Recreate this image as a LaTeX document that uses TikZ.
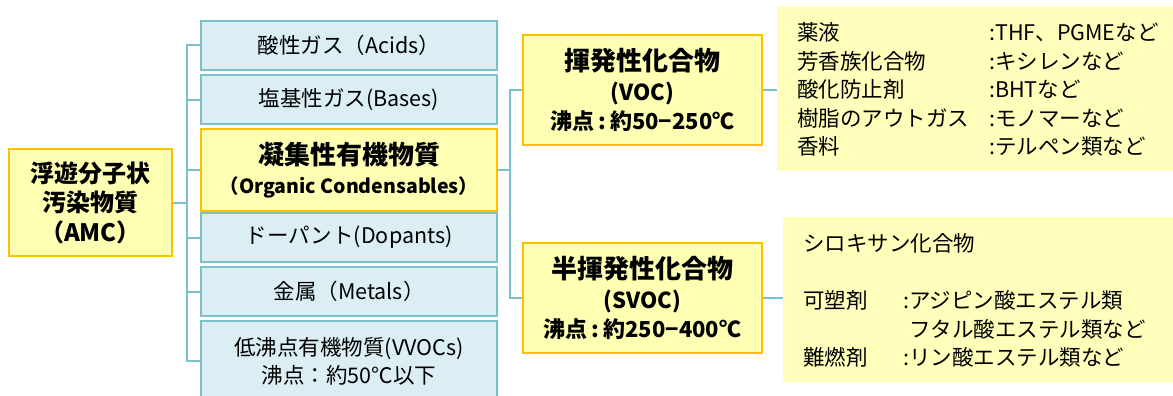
\documentclass[tikz,border=0pt]{standalone}
\usepackage{fontspec}
\setmainfont{Noto Sans CJK JP}
\definecolor{blueF}{HTML}{DAEEF3}
\definecolor{tealB}{HTML}{7AC1C9}
\definecolor{yelF}{HTML}{FFFFB3}
\definecolor{yelB}{HTML}{FFC000}
\definecolor{listF}{HTML}{FFFFBB}
\tikzset{
  bluebox/.style={draw=tealB, fill=blueF, line width=2pt, minimum width=296pt, inner sep=0pt, align=center,
     font=\fontsize{21.5}{28}\selectfont},
  yelbox/.style={draw=yelB, fill=yelF, line width=2pt, inner sep=0pt, align=center,
     font=\fontsize{22}{29.5}\selectfont\bfseries},
  listbox/.style={fill=listF, inner sep=0pt},
  listtext/.style={anchor=west, align=left, inner sep=0pt, font=\fontsize{21.5}{28.5}\selectfont},
  conn/.style={draw=tealB, line width=2pt},
}
\newcommand{\bcolon}{\kern4pt:\kern4pt}
\begin{document}
\begin{tikzpicture}[x=1pt,y=-1pt]
\useasboundingbox (0,0) rectangle (1173,396);
% left column
\node[yelbox, minimum width=163pt, minimum height=107pt] (amc) at (90.5,202.5)
  {\fontsize{24}{29.5}\selectfont 浮遊分子状\\\fontsize{24}{29.5}\selectfont 汚染物質\\\fontsize{24}{29.5}\selectfont （AMC）};
% middle column
\node[bluebox, minimum height=49pt] (acids) at (349,45.5) {酸性ガス（Acids）};
\node[bluebox, minimum height=49pt] (bases) at (349,99.5) {塩基性ガス(Bases)};
\node[yelbox, minimum width=296pt, minimum height=82pt] (orgc) at (349,170)
  {{\fontsize{26}{30}\selectfont 凝集性有機物質}\\\fontsize{19.5}{30}\selectfont （Organic Condensables）};
\node[bluebox, minimum height=49pt] (dop) at (349,237.5) {ドーパント(Dopants)};
\node[bluebox, minimum height=49pt] (met) at (349,291.5) {金属（Metals）};
\node[bluebox, minimum height=80pt] (vvoc) at (349,361) {低沸点有機物質(VVOCs)\\沸点：約50℃以下};
% right column
\node[yelbox, minimum width=239pt, minimum height=110pt] (voc) at (642.5,90)
  {{\fontsize{26}{29.5}\selectfont 揮発性化合物}\\(VOC)\\沸点\bcolon 約50−250℃};
\node[yelbox, minimum width=239pt, minimum height=110pt] (svoc) at (642.5,298)
  {{\fontsize{26}{29.5}\selectfont 半揮発性化合物}\\(SVOC)\\沸点\bcolon 約250−400℃};
% lists
\node[listbox, minimum width=398pt, minimum height=165pt] (list1) at (976,88.5) {};
\node[listtext] (list1t) at (797,89.5)
  {\makebox[192pt][l]{薬液}:THF、PGMEなど\\
   \makebox[192pt][l]{芳香族化合物}:キシレンなど\\
   \makebox[192pt][l]{酸化防止剤}:BHTなど\\
   \makebox[192pt][l]{樹脂のアウトガス}:モノマーなど\\
   \makebox[192pt][l]{香料}:テルペン類など};
\node[listbox, minimum width=392pt, minimum height=165pt] (list2) at (979,299.5) {};
\node[listtext] (list2t) at (803,300.5)
  {シロキサン化合物\\
   \mbox{}\\
   \makebox[100pt][l]{可塑剤}:アジピン酸エステル類\\
   \makebox[100pt][l]{}\phantom{:}フタル酸エステル類など\\
   \makebox[100pt][l]{難燃剤}:リン酸エステル類など};
% connectors
\coordinate (lbus) at (187,0);
\coordinate (rbus) at (510,0);
\draw[conn] (amc.east) -- (amc.east -| lbus);
\draw[conn] (acids.west) -- (acids.west -| lbus) -- (vvoc.west -| lbus) -- (vvoc.west);
\draw[conn] (bases.west) -- (bases.west -| lbus);
\draw[conn] (orgc.west) -- (orgc.west -| lbus);
\draw[conn] (dop.west) -- (dop.west -| lbus);
\draw[conn] (met.west) -- (met.west -| lbus);
\draw[conn] (orgc.east) -- (orgc.east -| rbus);
\draw[conn] (voc.west) -- (voc.west -| rbus) -- (svoc.west -| rbus) -- (svoc.west);
\draw[conn] (voc.east) -- (voc.east -| list1.west);
\draw[conn] (svoc.east) -- (svoc.east -| list2.west);
\end{tikzpicture}
\end{document}
